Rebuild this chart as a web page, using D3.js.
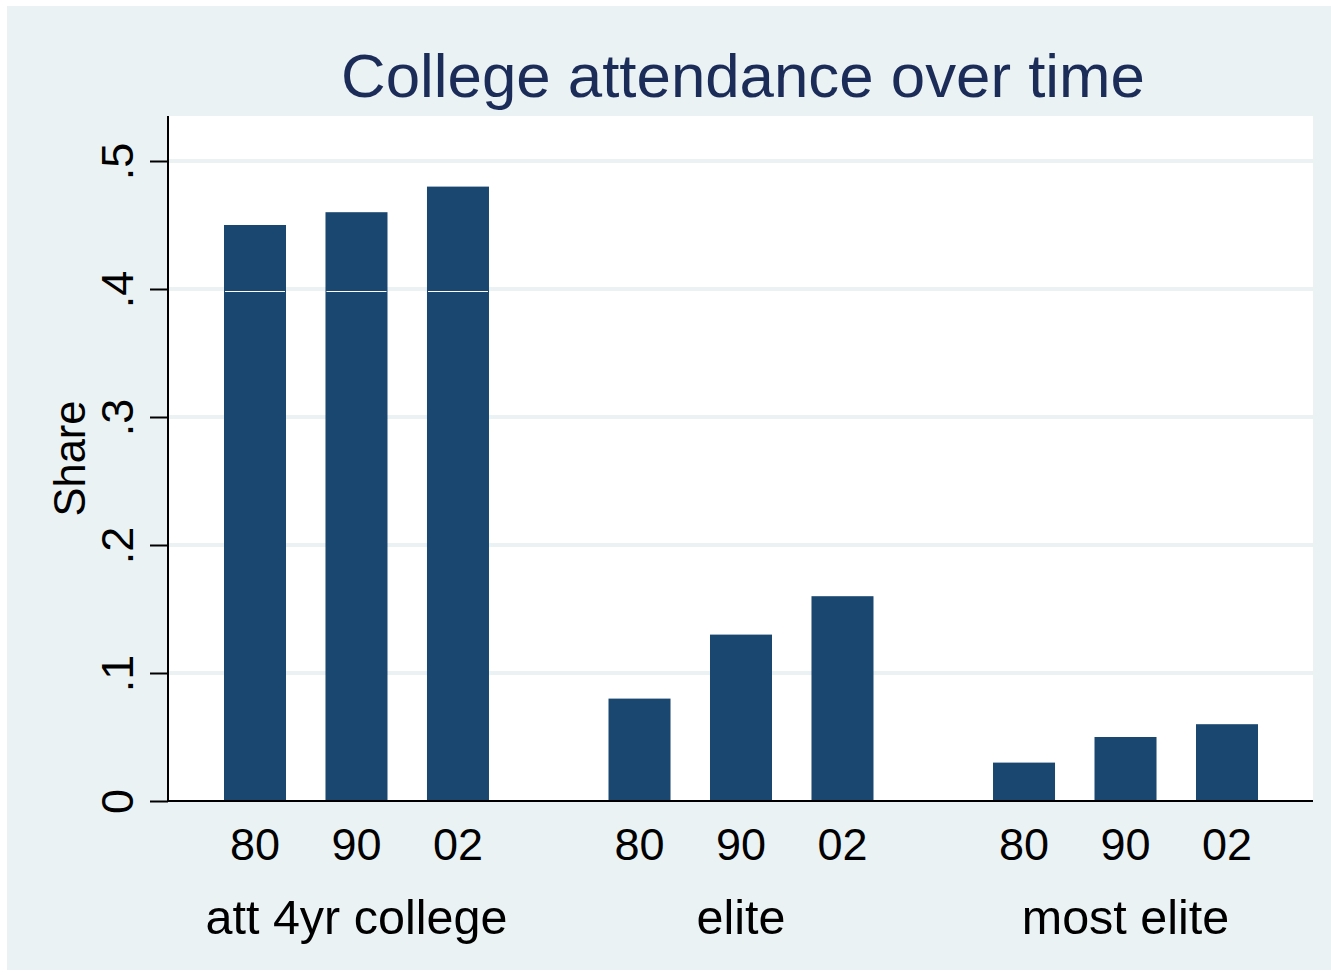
<!DOCTYPE html>
<html>
<head>
<meta charset="utf-8">
<script src="https://cdn.jsdelivr.net/npm/d3@7"></script>
<style>
  html, body { margin: 0; padding: 0; background: #ffffff; }
  svg { display: block; font-family: "Liberation Sans", Arial, Helvetica, sans-serif; }
</style>
</head>
<body>
<svg id="chart" width="1331" height="975"></svg>
<script>
// ---- data ----
const groups = ["att 4yr college", "elite", "most elite"];
const years = ["80", "90", "02"];
const values80 = [0.45, 0.08, 0.03];
const values90 = [0.46, 0.13, 0.05];
const values02 = [0.48, 0.16, 0.06];
const yTicks = [0, 0.1, 0.2, 0.3, 0.4, 0.5];
const yTickLabels = ["0", ".1", ".2", ".3", ".4", ".5"];
const titleText = "College attendance over time";
const yTitle = "Share";

const seriesByYear = { "80": values80, "90": values90, "02": values02 };
const rows = [];
groups.forEach((g, gi) => years.forEach(yr => rows.push({ group: g, year: yr, value: seriesByYear[yr][gi] })));

// ---- layout ----
const W = 1331, H = 975;
const plot = { left: 169, right: 1313, top: 116, bottom: 801 };
const bg = "#eaf2f3", barColor = "#1a476f", titleColor = "#1c2c58";

const svg = d3.select("#chart");

// outer panel
svg.append("rect").attr("x", 7).attr("y", 6).attr("width", W - 7).attr("height", H - 11).attr("fill", bg);
// plot region
svg.append("rect").attr("x", plot.left).attr("y", plot.top)
  .attr("width", plot.right - plot.left).attr("height", plot.bottom - plot.top).attr("fill", "#ffffff");

const y = d3.scaleLinear().domain([0, 0.5]).range([plot.bottom, plot.bottom - 0.5 * 1280]);

const x0 = d3.scaleBand().domain(groups).range([plot.left, plot.right])
  .paddingInner(0.2).paddingOuter(0.0876);
const x1 = d3.scaleBand().domain(years).range([0, x0.bandwidth()])
  .paddingInner(0.389).paddingOuter(0.21);

// gridlines
svg.append("g").selectAll("line").data(yTicks.filter(t => t > 0)).join("line")
  .attr("x1", plot.left).attr("x2", plot.right)
  .attr("y1", d => y(d)).attr("y2", d => y(d))
  .attr("stroke", bg).attr("stroke-width", 4);

// bars
svg.append("g").selectAll("rect").data(rows).join("rect")
  .attr("x", d => x0(d.group) + x1(d.year))
  .attr("y", d => y(d.value))
  .attr("width", x1.bandwidth())
  .attr("height", d => y(0) - y(d.value))
  .attr("fill", barColor);

// thin white line artifact across tall bars near .4
svg.append("g").selectAll("line").data(rows.filter(d => d.value > 0.4)).join("line")
  .attr("x1", d => x0(d.group) + x1(d.year) + 1)
  .attr("x2", d => x0(d.group) + x1(d.year) + x1.bandwidth() - 1)
  .attr("y1", y(0.4) + 2.5).attr("y2", y(0.4) + 2.5)
  .attr("stroke", "#ffffff").attr("stroke-width", 1);

// y axis
const yAxis = d3.axisLeft(y).tickValues(yTicks).tickSize(18).tickFormat((d, i) => yTickLabels[i]);
const gy = svg.append("g").attr("transform", `translate(${plot.left - 1},0)`).call(yAxis);
gy.select(".domain").attr("stroke", "#000").attr("stroke-width", 2)
  .attr("d", `M0,${plot.top}V${plot.bottom}`);
gy.selectAll(".tick line").attr("stroke", "#000").attr("stroke-width", 2);
gy.selectAll(".tick text")
  .attr("x", 0).attr("dy", null).attr("y", 0)
  .attr("transform", "translate(-35,0) rotate(-90)")
  .attr("text-anchor", "middle")
  .attr("font-size", 45).attr("fill", "#000")
  .style("font-family", "'Liberation Sans', Arial, sans-serif");

// x baseline
svg.append("line").attr("x1", plot.left - 1).attr("x2", plot.right)
  .attr("y1", plot.bottom).attr("y2", plot.bottom)
  .attr("stroke", "#000").attr("stroke-width", 2);

// year labels
svg.append("g").selectAll("text").data(rows).join("text")
  .attr("x", d => x0(d.group) + x1(d.year) + x1.bandwidth() / 2)
  .attr("y", 860)
  .attr("text-anchor", "middle").attr("font-size", 45).attr("fill", "#000")
  .text(d => d.year);

// group labels
svg.append("g").selectAll("text").data(groups).join("text")
  .attr("x", d => x0(d) + x0.bandwidth() / 2)
  .attr("y", 934)
  .attr("text-anchor", "middle").attr("font-size", 48.5).attr("fill", "#000")
  .text(d => d);

// y title
svg.append("text")
  .attr("transform", `translate(85,${(plot.top + plot.bottom) / 2}) rotate(-90)`)
  .attr("text-anchor", "middle").attr("font-size", 43.5).attr("fill", "#000")
  .text(yTitle);

// title
svg.append("text")
  .attr("x", (plot.left + plot.right) / 2 + 2).attr("y", 97)
  .attr("text-anchor", "middle").attr("font-size", 61.8).attr("fill", titleColor)
  .text(titleText);
</script>
</body>
</html>
